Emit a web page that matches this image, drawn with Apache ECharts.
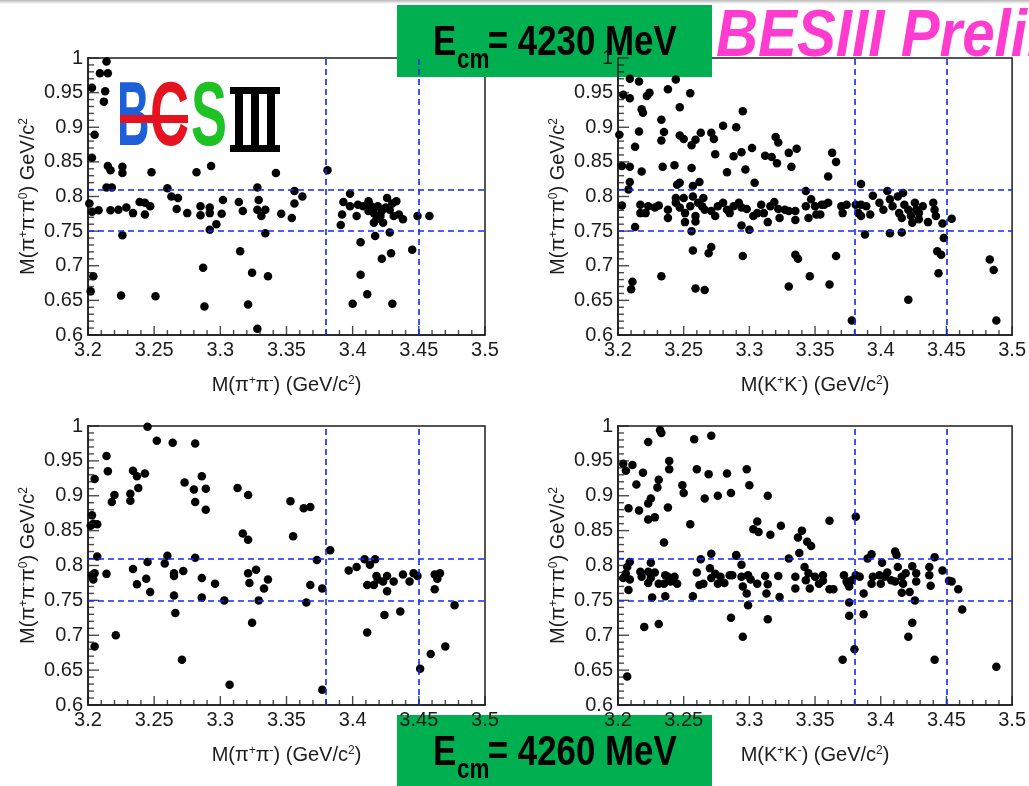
<!DOCTYPE html>
<html>
<head>
<meta charset="utf-8">
<script src="https://cdn.jsdelivr.net/npm/echarts@6/dist/echarts.min.js"></script>
<style>
html, body { margin: 0; padding: 0; background: #fff; overflow: hidden; }
#chart { width: 1029px; height: 786px; }
</style>
</head>
<body>
<div id="chart"></div>
<script>
// Axis ranges and ticks (GeV/c^2)
const xRange = [3.2, 3.5];
const xStep = 0.05;
const yRange = [0.6, 1.0];
const yStep = 0.05;
const minorDiv = 5;

// Selection cuts drawn as dashed lines
const cutX = [3.38, 3.45];
const cutY = [0.75, 0.81];

// Panel titles
const energies = ['4230', '4260'];
const xTitles = ['M(π{s|+}π{s|-}) (GeV/c{s|2})', 'M(K{s|+}K{s|-}) (GeV/c{s|2})'];
const yTitle = 'M(π{s|+}π{s|-}π{s|0}) GeV/c{s|2}';

// Events: [M(h+h-), M(pi+pi-pi0)]
const pipi4230 = [
  [3.214,0.995],[3.209,0.978],[3.215,0.978],[3.203,0.957],[3.213,0.952],[3.212,0.937],[3.205,0.889],[3.203,0.856],
  [3.215,0.844],[3.217,0.838],[3.226,0.843],[3.226,0.834],[3.248,0.835],[3.282,0.835],[3.293,0.844],[3.342,0.834],
  [3.214,0.813],[3.218,0.813],[3.260,0.812],[3.263,0.800],[3.268,0.798],[3.328,0.813],[3.329,0.795],[3.201,0.790],
  [3.203,0.778],[3.208,0.780],[3.217,0.780],[3.223,0.781],[3.229,0.784],[3.234,0.776],[3.239,0.792],[3.243,0.791],
  [3.247,0.786],[3.243,0.774],[3.267,0.782],[3.275,0.776],[3.285,0.786],[3.285,0.773],[3.292,0.784],[3.292,0.776],
  [3.302,0.795],[3.301,0.775],[3.314,0.792],[3.317,0.779],[3.328,0.781],[3.331,0.772],[3.334,0.781],[3.346,0.775],
  [3.354,0.769],[3.226,0.744],[3.292,0.752],[3.297,0.760],[3.334,0.747],[3.315,0.721],[3.287,0.697],[3.324,0.690],
  [3.336,0.685],[3.204,0.685],[3.202,0.663],[3.225,0.657],[3.251,0.656],[3.288,0.641],[3.321,0.644],[3.328,0.609],
  [3.356,0.808],[3.362,0.800],[3.356,0.790],[3.381,0.838],[3.398,0.804],[3.393,0.792],[3.398,0.786],[3.404,0.788],
  [3.412,0.793],[3.419,0.786],[3.426,0.798],[3.433,0.793],[3.412,0.779],[3.416,0.776],[3.422,0.779],[3.428,0.781],
  [3.431,0.772],[3.438,0.767],[3.418,0.767],[3.423,0.762],[3.416,0.762],[3.392,0.774],[3.403,0.772],[3.391,0.759],
  [3.408,0.786],[3.414,0.786],[3.425,0.784],[3.430,0.790],[3.435,0.774],[3.421,0.772],[3.449,0.772],[3.458,0.772],
  [3.428,0.748],[3.417,0.743],[3.406,0.734],[3.429,0.718],[3.422,0.710],[3.445,0.723],[3.406,0.687],[3.411,0.659],
  [3.400,0.645],[3.430,0.645]
];

const kk4230 = [
  [3.209,0.970],[3.216,0.966],[3.244,0.969],[3.238,0.955],[3.222,0.945],[3.224,0.950],[3.204,0.947],[3.209,0.942],
  [3.255,0.949],[3.218,0.926],[3.219,0.921],[3.247,0.929],[3.295,0.923],[3.233,0.911],[3.201,0.889],[3.216,0.894],
  [3.235,0.893],[3.233,0.881],[3.247,0.888],[3.250,0.883],[3.263,0.892],[3.259,0.882],[3.256,0.874],[3.271,0.892],
  [3.273,0.883],[3.280,0.902],[3.290,0.900],[3.213,0.872],[3.274,0.861],[3.288,0.858],[3.294,0.864],[3.302,0.870],
  [3.312,0.859],[3.317,0.857],[3.320,0.886],[3.322,0.878],[3.330,0.863],[3.336,0.869],[3.321,0.848],[3.332,0.843],
  [3.203,0.844],[3.209,0.843],[3.218,0.836],[3.234,0.843],[3.243,0.845],[3.256,0.841],[3.283,0.835],[3.297,0.839],
  [3.304,0.820],[3.209,0.821],[3.245,0.817],[3.247,0.820],[3.257,0.815],[3.262,0.821],
  [3.203,0.787],[3.208,0.810],[3.217,0.788],[3.221,0.776],[3.217,0.776],[3.223,0.786],[3.228,0.784],[3.231,0.787],
  [3.238,0.781],[3.238,0.769],[3.244,0.791],[3.244,0.798],[3.247,0.784],[3.250,0.798],[3.251,0.776],[3.255,0.786],
  [3.257,0.800],[3.259,0.772],[3.261,0.791],[3.264,0.786],[3.265,0.798],[3.266,0.781],[3.271,0.779],[3.274,0.772],
  [3.276,0.786],[3.280,0.791],[3.283,0.781],[3.285,0.776],[3.288,0.786],[3.292,0.791],[3.294,0.784],[3.298,0.782],
  [3.303,0.772],[3.306,0.776],[3.309,0.788],[3.311,0.776],[3.314,0.763],[3.316,0.786],[3.319,0.792],[3.322,0.782],
  [3.323,0.769],[3.327,0.781],[3.330,0.779],[3.335,0.779],[3.335,0.766],[3.343,0.808],[3.343,0.786],[3.345,0.769],
  [3.347,0.796],[3.350,0.786],[3.351,0.774],[3.355,0.788],[3.251,0.763],[3.256,0.750],[3.213,0.756],[3.294,0.758],
  [3.300,0.752],[3.259,0.764],
  [3.257,0.722],[3.271,0.727],[3.269,0.718],[3.295,0.714],[3.335,0.716],[3.337,0.710],[3.233,0.685],[3.211,0.677],
  [3.210,0.666],[3.259,0.667],[3.266,0.665],[3.330,0.670],[3.346,0.685],
  [3.363,0.863],[3.366,0.850],[3.360,0.829],[3.385,0.818],[3.394,0.801],[3.357,0.788],[3.360,0.791],[3.354,0.774],
  [3.370,0.786],[3.374,0.788],[3.371,0.776],[3.381,0.788],[3.385,0.788],[3.383,0.776],[3.389,0.786],[3.392,0.774],
  [3.385,0.772],[3.399,0.791],[3.402,0.781],[3.405,0.808],[3.407,0.796],[3.409,0.786],[3.413,0.800],[3.414,0.776],
  [3.416,0.769],[3.417,0.805],[3.418,0.788],[3.421,0.781],[3.423,0.772],[3.426,0.791],[3.427,0.781],[3.429,0.776],
  [3.432,0.786],[3.429,0.767],[3.424,0.762],[3.436,0.763],[3.440,0.791],[3.441,0.781],[3.442,0.772],[3.447,0.761],
  [3.454,0.768],[3.388,0.745],[3.407,0.747],[3.416,0.748],[3.448,0.740],[3.443,0.721],[3.446,0.716],[3.444,0.689],
  [3.366,0.714],[3.361,0.673],[3.421,0.651],[3.378,0.621],[3.483,0.709],[3.486,0.694],[3.488,0.621]
];

const pipi4260 = [
  [3.245,0.999],[3.252,0.979],[3.264,0.976],[3.281,0.975],[3.214,0.957],[3.215,0.935],[3.234,0.936],[3.237,0.928],
  [3.243,0.932],[3.205,0.924],[3.238,0.911],[3.232,0.903],[3.232,0.893],[3.220,0.901],[3.218,0.891],[3.273,0.919],
  [3.280,0.909],[3.289,0.910],[3.286,0.928],[3.281,0.891],[3.289,0.880],[3.313,0.911],[3.321,0.901],[3.353,0.892],
  [3.203,0.872],[3.204,0.860],[3.202,0.857],[3.207,0.859],[3.317,0.846],[3.321,0.837],[3.355,0.842],[3.207,0.813],
  [3.203,0.786],[3.205,0.789],[3.204,0.780],[3.214,0.788],[3.234,0.795],[3.237,0.773],[3.245,0.805],[3.244,0.781],
  [3.247,0.762],[3.258,0.803],[3.260,0.814],[3.265,0.789],[3.265,0.785],[3.272,0.792],[3.265,0.757],[3.266,0.732],
  [3.281,0.811],[3.286,0.782],[3.286,0.754],[3.296,0.774],[3.303,0.750],[3.321,0.789],[3.322,0.775],[3.327,0.794],
  [3.336,0.780],[3.333,0.767],[3.329,0.750],[3.324,0.718],[3.221,0.700],[3.205,0.684],[3.271,0.665],[3.307,0.629],
  [3.363,0.882],[3.368,0.884],[3.383,0.822],[3.373,0.808],[3.368,0.772],[3.377,0.767],[3.365,0.747],[3.397,0.793],
  [3.403,0.798],[3.409,0.809],[3.413,0.801],[3.417,0.809],[3.418,0.785],[3.419,0.780],[3.426,0.785],[3.423,0.777],
  [3.431,0.777],[3.411,0.772],[3.416,0.772],[3.426,0.763],[3.438,0.787],[3.443,0.777],[3.446,0.789],[3.449,0.785],
  [3.462,0.787],[3.466,0.789],[3.464,0.781],[3.462,0.766],[3.477,0.743],[3.424,0.729],[3.436,0.734],[3.411,0.704],
  [3.470,0.684],[3.459,0.673],[3.451,0.652],[3.377,0.622]
];

const kk4260 = [
  [3.232,0.994],[3.233,0.990],[3.223,0.977],[3.258,0.981],[3.271,0.986],[3.204,0.946],[3.206,0.936],[3.211,0.944],
  [3.219,0.933],[3.239,0.950],[3.239,0.938],[3.260,0.938],[3.269,0.931],[3.283,0.932],[3.298,0.938],[3.214,0.916],
  [3.231,0.923],[3.230,0.912],[3.249,0.915],[3.250,0.904],[3.300,0.915],[3.266,0.896],[3.276,0.900],[3.286,0.904],
  [3.314,0.900],[3.225,0.896],[3.223,0.889],[3.208,0.882],[3.216,0.879],[3.238,0.883],[3.223,0.866],[3.228,0.869],
  [3.255,0.859],[3.306,0.863],[3.303,0.852],[3.307,0.848],[3.316,0.844],[3.324,0.857],[3.340,0.850],[3.337,0.840],
  [3.344,0.834],[3.347,0.828],[3.235,0.833],[3.271,0.817],[3.290,0.814],[3.338,0.818],[3.330,0.810],
  [3.209,0.805],[3.207,0.798],[3.206,0.788],[3.209,0.780],[3.208,0.765],[3.204,0.782],
  [3.217,0.791],[3.218,0.784],[3.225,0.804],[3.223,0.791],[3.225,0.782],[3.223,0.775],[3.228,0.790],[3.231,0.774],
  [3.235,0.774],[3.238,0.784],[3.240,0.777],[3.243,0.784],[3.245,0.774],[3.236,0.786],[3.226,0.754],[3.236,0.756],
  [3.257,0.756],[3.263,0.809],[3.260,0.790],[3.262,0.772],[3.265,0.774],[3.271,0.782],[3.270,0.796],[3.274,0.788],
  [3.278,0.784],[3.281,0.775],[3.276,0.774],[3.285,0.786],[3.287,0.786],[3.290,0.815],[3.294,0.801],[3.294,0.784],
  [3.295,0.770],[3.298,0.760],[3.299,0.786],[3.301,0.780],[3.306,0.774],[3.312,0.785],[3.314,0.773],[3.313,0.760],
  [3.322,0.785],[3.323,0.755],[3.335,0.784],[3.335,0.767],[3.342,0.798],[3.345,0.789],[3.343,0.779],[3.346,0.767],
  [3.350,0.784],[3.353,0.774],[3.356,0.786],[3.299,0.743],
  [3.286,0.725],[3.314,0.723],[3.220,0.712],[3.231,0.716],[3.295,0.698],[3.207,0.641],
  [3.361,0.864],[3.381,0.870],[3.356,0.778],[3.361,0.766],[3.364,0.766],[3.372,0.786],[3.375,0.774],[3.378,0.779],
  [3.376,0.770],[3.381,0.786],[3.384,0.784],[3.374,0.777],[3.387,0.760],[3.390,0.810],[3.393,0.816],[3.401,0.804],
  [3.394,0.784],[3.393,0.774],[3.399,0.786],[3.403,0.784],[3.405,0.790],[3.408,0.779],[3.400,0.774],[3.411,0.777],
  [3.411,0.820],[3.412,0.815],[3.413,0.798],[3.416,0.784],[3.419,0.789],[3.417,0.774],[3.416,0.761],[3.422,0.762],
  [3.424,0.799],[3.427,0.789],[3.427,0.777],[3.426,0.750],[3.437,0.798],[3.437,0.786],[3.438,0.771],[3.441,0.812],
  [3.447,0.793],[3.452,0.778],[3.454,0.777],[3.459,0.766],[3.462,0.737],[3.376,0.747],[3.376,0.728],[3.387,0.730],
  [3.424,0.718],[3.421,0.698],[3.380,0.680],[3.371,0.665],[3.441,0.665],[3.488,0.655]
];

const panels = [
  { data: pipi4230, xTitle: xTitles[0], rect: [88, 58, 397, 277] },
  { data: kk4230,   xTitle: xTitles[1], rect: [618, 58, 395, 277] },
  { data: pipi4260, xTitle: xTitles[0], rect: [88, 426, 397, 279] },
  { data: kk4260,   xTitle: xTitles[1], rect: [618, 426, 395, 279] }
];

const ink = '#1c1c1c';
const labelFont = 'Liberation Sans, Arial, sans-serif';
const richSup = {
  s: { fontSize: 12, fontFamily: labelFont, color: ink, verticalAlign: 'top', lineHeight: 12 }
};

const cutLines = cutX.map(v => ({ xAxis: v })).concat(cutY.map(v => ({ yAxis: v })));

const grids = panels.map(p => ({
  left: p.rect[0], top: p.rect[1], width: p.rect[2], height: p.rect[3],
  show: true, borderColor: ink, borderWidth: 1.5
}));

function axisCommon(i, range, step) {
  return {
    type: 'value', gridIndex: i, min: range[0], max: range[1], interval: step,
    axisLine: { show: true, lineStyle: { color: ink, width: 1.5 } },
    axisTick: { show: false },
    axisLabel: { fontSize: 20, fontFamily: labelFont, color: ink, margin: 5 },
    splitLine: { show: false }
  };
}

const xAxes = panels.map((p, i) => Object.assign(axisCommon(i, xRange, xStep), {
  name: p.xTitle, nameLocation: 'middle', nameGap: 40,
  nameTextStyle: { fontSize: 20, fontFamily: labelFont, color: ink, rich: richSup }
}));

const yAxes = panels.map((p, i) => Object.assign(axisCommon(i, yRange, yStep), {
  name: yTitle, nameLocation: 'middle', nameGap: 50,
  nameTextStyle: { fontSize: 20, fontFamily: labelFont, color: ink, rich: richSup }
}));

// Tick positions along each axis: a major tick every step, minor ticks between
function tickValues(range, step, major) {
  const out = [];
  const n = Math.round((range[1] - range[0]) / step * minorDiv);
  for (let k = 0; k <= n; k++) {
    if ((k % minorDiv === 0) === major) out.push(+(range[0] + k * step / minorDiv).toFixed(4));
  }
  return out;
}

// Inward tick marks drawn as thin rect symbols sitting on the bottom and left frame edges
function tickSeries(i) {
  const base = { type: 'scatter', xAxisIndex: i, yAxisIndex: i, symbol: 'rect', silent: true,
    itemStyle: { color: ink }, clip: false, z: 4 };
  return [
    Object.assign({}, base, { data: tickValues(xRange, xStep, true).map(v => [v, yRange[0]]), symbolSize: [1.4, 9], symbolOffset: [0, -4.5] }),
    Object.assign({}, base, { data: tickValues(xRange, xStep, false).map(v => [v, yRange[0]]), symbolSize: [1.4, 5], symbolOffset: [0, -2.5] }),
    Object.assign({}, base, { data: tickValues(yRange, yStep, true).map(v => [xRange[0], v]), symbolSize: [11, 1.4], symbolOffset: [5.5, 0] }),
    Object.assign({}, base, { data: tickValues(yRange, yStep, false).map(v => [xRange[0], v]), symbolSize: [6, 1.4], symbolOffset: [3, 0] })
  ];
}

const series = [];
panels.forEach((p, i) => {
  series.push({
    type: 'scatter', xAxisIndex: i, yAxisIndex: i,
    data: p.data, symbol: 'circle', symbolSize: 8.5,
    itemStyle: { color: '#000', opacity: 1 },
    markLine: {
      silent: true, symbol: 'none',
      label: { show: false },
      lineStyle: { color: '#1328f2', type: [6, 4], width: 1.6 },
      data: cutLines
    }
  });
  tickSeries(i).forEach(s => series.push(s));
});

// Energy banner: green box with E_cm text
function energyBox(y, energy) {
  return {
    type: 'group', x: 397, y: y, z: 100,
    children: [
      { type: 'rect', shape: { x: 0, y: 0, width: 315, height: 72 }, style: { fill: '#00b050' } },
      { type: 'group', x: 36, y: 0, scaleX: 0.83,
        children: [
          { type: 'text', style: { x: 0, y: 38, text: 'E', font: 'bold 42px ' + labelFont, fill: '#000', textVerticalAlign: 'middle' } },
          { type: 'text', style: { x: 29, y: 56, text: 'cm', font: 'bold 27px ' + labelFont, fill: '#000', textVerticalAlign: 'middle' } },
          { type: 'text', style: { x: 66, y: 38, text: '= ' + energy + ' MeV', font: 'bold 42px ' + labelFont, fill: '#000', textVerticalAlign: 'middle' } }
        ] }
    ]
  };
}

// BESIII logo
const logo = {
  type: 'group', x: 0, y: 0, z: 90,
  children: [
    { type: 'text', x: 117, y: 120, scaleX: 0.5, style: { x: 0, y: 0, text: 'B', font: 'bold 90px ' + labelFont, fill: '#1c5fd9', textVerticalAlign: 'middle' } },
    { type: 'text', x: 150, y: 120, scaleX: 0.6, style: { x: 0, y: 0, text: 'C', font: 'bold 90px ' + labelFont, fill: '#e5121f', textVerticalAlign: 'middle' } },
    { type: 'rect', shape: { x: 120, y: 115, width: 68, height: 8 }, style: { fill: '#e5121f' } },
    { type: 'text', x: 191, y: 120, scaleX: 0.6, style: { x: 0, y: 0, text: 'S', font: 'bold 90px ' + labelFont, fill: '#1ec225', textVerticalAlign: 'middle' } },
    { type: 'rect', shape: { x: 230, y: 87, width: 50, height: 7 }, style: { fill: '#000' } },
    { type: 'rect', shape: { x: 230, y: 145, width: 50, height: 7 }, style: { fill: '#000' } },
    { type: 'rect', shape: { x: 235, y: 87, width: 8, height: 65 }, style: { fill: '#000' } },
    { type: 'rect', shape: { x: 251, y: 87, width: 8, height: 65 }, style: { fill: '#000' } },
    { type: 'rect', shape: { x: 267, y: 87, width: 8, height: 65 }, style: { fill: '#000' } }
  ]
};

const chart = echarts.init(document.getElementById('chart'));
chart.setOption({
  animation: false,
  backgroundColor: '#fff',
  grid: grids,
  xAxis: xAxes,
  yAxis: yAxes,
  series: series,
  graphic: [
    { type: 'rect', z: 100, shape: { x: 0, y: 0, width: 1029, height: 4 },
      style: { fill: new echarts.graphic.LinearGradient(0, 0, 0, 1, [{ offset: 0, color: '#b8b8b8' }, { offset: 1, color: '#ffffff' }]) } },
    energyBox(5, energies[0]),
    energyBox(715, energies[1]),
    { type: 'text', x: 716, y: 38, z: 100, scaleX: 0.87,
      style: { x: 0, y: 0, text: 'BESIII Preliminary', font: 'italic bold 67px ' + labelFont, fill: '#ff3ccf', textVerticalAlign: 'middle' } },
    logo
  ]
});
</script>
</body>
</html>
